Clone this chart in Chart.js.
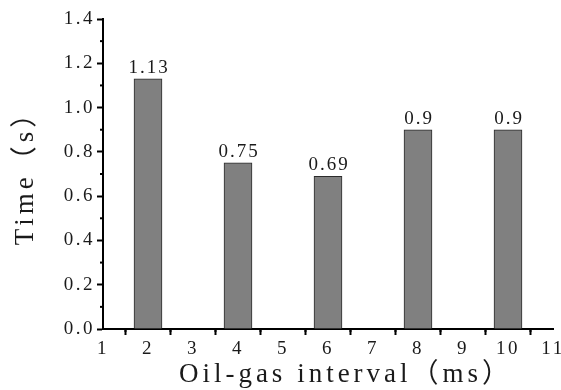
<!DOCTYPE html>
<html>
<head>
<meta charset="utf-8">
<script src="https://cdn.jsdelivr.net/npm/chart.js@4/dist/chart.umd.min.js"></script>
<style>
  html, body { margin: 0; padding: 0; background: #fff; }
  #wrap { width: 561px; height: 390px; }
</style>
</head>
<body>
<div id="wrap"><canvas id="chart"></canvas></div>
<script>
const intervals = [2, 4, 6, 8, 10];
const times = [1.13, 0.75, 0.69, 0.9, 0.9];
const xTitle = 'Oil-gas interval（ms）';
const yTitle = 'Time（s）';

const FONT = '"Liberation Serif", "Noto Sans CJK SC", serif';
const TEXT = '#1a1a1a';

// wide letter spacing for all chart text
const spacing = {
    id: 'spacing',
    beforeDraw(chart) {
        chart.ctx.letterSpacing = '2.5px';
    }
};

// short ticks half-way between the labelled ones
const minorTicks = {
    id: 'minorTicks',
    afterDraw(chart) {
        const ctx = chart.ctx;
        ctx.save();
        ctx.strokeStyle = '#000';
        ctx.lineWidth = 2;
        const x = chart.scales.x, y = chart.scales.y;
        for (let i = 0; i < x.ticks.length - 1; i++) {
            const px = x.getPixelForValue((x.ticks[i].value + x.ticks[i + 1].value) / 2);
            ctx.beginPath();
            ctx.moveTo(px, x.top);
            ctx.lineTo(px, x.top + 3);
            ctx.stroke();
        }
        for (let i = 0; i < y.ticks.length - 1; i++) {
            const py = y.getPixelForValue((y.ticks[i].value + y.ticks[i + 1].value) / 2);
            ctx.beginPath();
            ctx.moveTo(y.right, py);
            ctx.lineTo(y.right - 3, py);
            ctx.stroke();
        }
        ctx.restore();
    }
};

// value written above each bar
const barLabels = {
    id: 'barLabels',
    afterDatasetsDraw(chart) {
        const ctx = chart.ctx;
        const meta = chart.getDatasetMeta(0);
        ctx.save();
        ctx.font = '19px ' + FONT;
        ctx.letterSpacing = '2px';
        ctx.fillStyle = TEXT;
        ctx.textAlign = 'center';
        ctx.textBaseline = 'alphabetic';
        meta.data.forEach((bar, i) => {
            ctx.fillText(String(times[i]), bar.x + 1, bar.y - 6);
        });
        ctx.restore();
    }
};

// axis titles, spaced out more than the tick labels
const axisTitles = {
    id: 'axisTitles',
    afterDraw(chart) {
        const ctx = chart.ctx;
        const area = chart.chartArea;
        ctx.save();
        ctx.font = '27px ' + FONT;
        ctx.letterSpacing = '4px';
        ctx.fillStyle = TEXT;
        ctx.textAlign = 'center';
        ctx.textBaseline = 'middle';
        ctx.fillText(xTitle, (area.left + area.right) / 2 + 18, chart.height - 15);
        ctx.translate(26, (area.top + area.bottom) / 2 - 3);
        ctx.rotate(-Math.PI / 2);
        ctx.fillText(yTitle, 0, 0);
        ctx.restore();
    }
};

new Chart(document.getElementById('chart'), {
    type: 'bar',
    data: {
        datasets: [{
            data: intervals.map((v, i) => ({ x: v, y: times[i] })),
            backgroundColor: '#808080',
            borderColor: '#2b2b2b',
            borderWidth: 1,
            barThickness: 28,
        }]
    },
    options: {
        responsive: true,
        maintainAspectRatio: false,
        animation: false,
        layout: { padding: { top: 19, right: 8, left: 0, bottom: 0 } },
        plugins: {
            legend: { display: false },
            tooltip: { enabled: false },
        },
        scales: {
            x: {
                type: 'linear',
                offset: false,
                min: 1,
                max: 11,
                afterFit: (scale) => {
                    scale.height = 61;
                    scale.paddingRight = 0;
                    scale.paddingLeft = 0;
                },
                border: { display: true, color: '#000', width: 2 },
                grid: { drawOnChartArea: false, drawTicks: true, tickLength: 6, tickColor: '#000', tickWidth: 2 },
                ticks: {
                    stepSize: 1,
                    padding: 3,
                    color: TEXT,
                    font: { family: FONT, size: 19 },
                    maxRotation: 0,
                    autoSkip: false,
                },
            },
            y: {
                min: 0,
                max: 1.4,
                afterFit: (scale) => { scale.width = 103; },
                border: { display: true, color: '#000', width: 2 },
                grid: { drawOnChartArea: false, drawTicks: true, tickLength: 6, tickColor: '#000', tickWidth: 2 },
                ticks: {
                    stepSize: 0.2,
                    padding: 2,
                    color: TEXT,
                    font: { family: FONT, size: 19 },
                    callback: (v) => Number(v).toFixed(1),
                },
            }
        }
    },
    plugins: [spacing, minorTicks, barLabels, axisTitles]
});
</script>
</body>
</html>
